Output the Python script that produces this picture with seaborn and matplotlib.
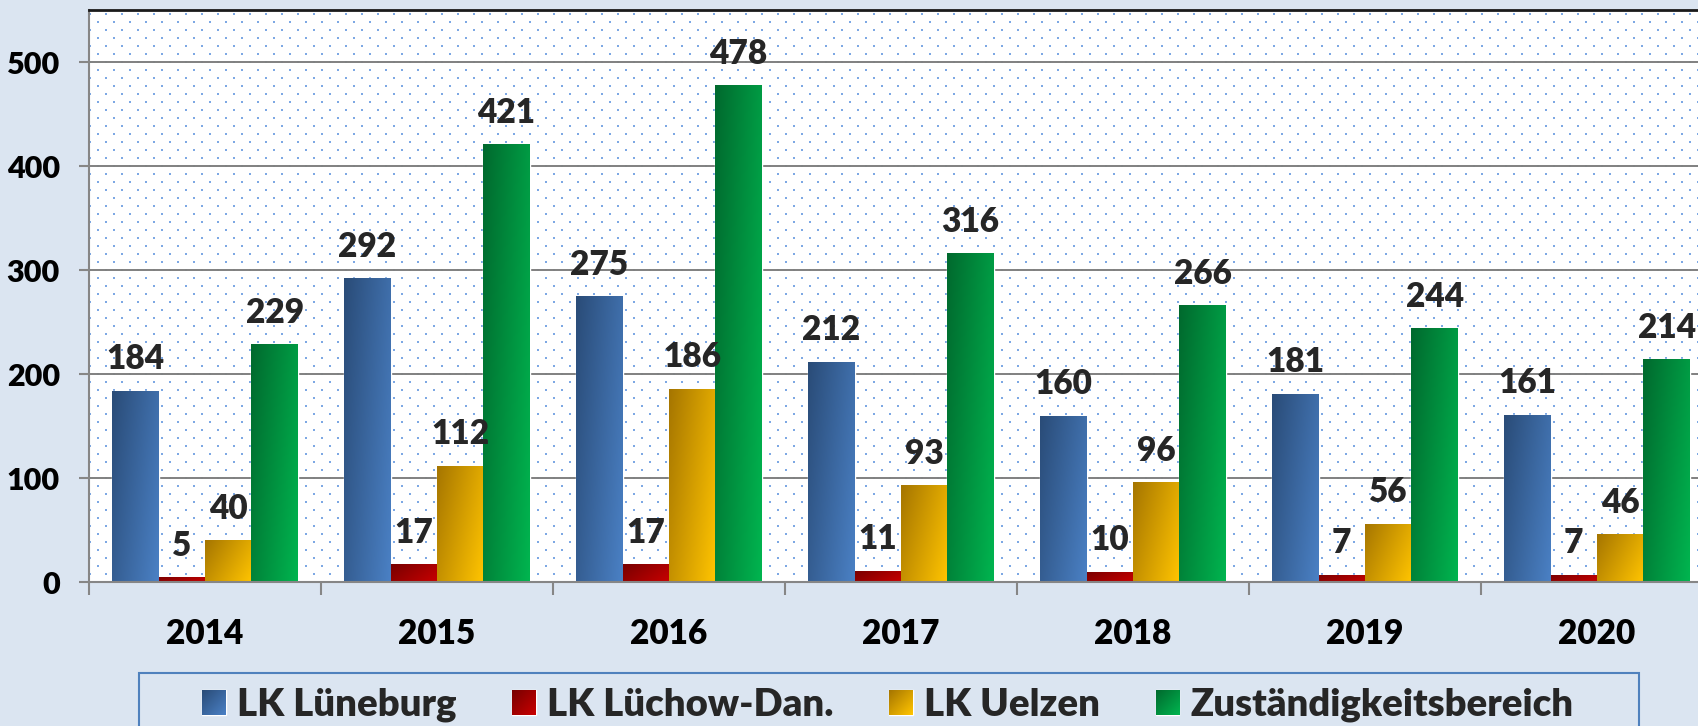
import matplotlib
matplotlib.use("Agg")
import matplotlib.pyplot as plt
from matplotlib.patches import Rectangle
import numpy as np
import pandas as pd
import seaborn as sns
from matplotlib.colors import LinearSegmentedColormap

# Data
years = ["2014", "2015", "2016", "2017", "2018", "2019", "2020"]
series = ["LK Lüneburg", "LK Lüchow-Dan.", "LK Uelzen", "Zuständigkeitsbereich"]
lk_lueneburg = [184, 292, 275, 212, 160, 181, 161]
lk_luechow = [5, 17, 17, 11, 10, 7, 7]
lk_uelzen = [40, 112, 186, 93, 96, 56, 46]
zustaendig = [229, 421, 478, 316, 266, 244, 214]

# (dark, light) gradient colours per series
grads = [("#2a4c78", "#4a80c4"), ("#780000", "#c80000"),
         ("#a67600", "#ffc400"), ("#006a2e", "#00b44f")]

df = pd.DataFrame({
    "year": years * 4,
    "value": lk_lueneburg + lk_luechow + lk_uelzen + zustaendig,
    "series": np.repeat(series, len(years)),
})

sns.set_theme(style="white")
plt.rcParams["font.family"] = ["Lato", "DejaVu Sans"]
plt.rcParams["font.weight"] = "heavy"

bg = "#dbe5f1"
W, H = 1698, 726
fig = plt.figure(figsize=(W / 100, H / 100), dpi=100, facecolor=bg)
ax = fig.add_axes([89 / W, 1 - 582 / H, 1624 / W, 572 / H])
ax.set_facecolor("white")

# dotted background pattern of the plot area
ph, pw = 572, 1624
pat = np.zeros((ph, pw, 4))
dot = (0.40, 0.60, 0.88, 0.85)
for r in range(3, ph, 8):
    off = 8 if (r // 8) % 2 else 0
    for dc in (0, 1):
        pat[r:r + 2, off + dc::16] = dot
ax.imshow(pat, extent=(0, 1, 0, 1), transform=ax.transAxes, aspect="auto",
          interpolation="nearest", zorder=0.1)

sns.barplot(data=df, x="year", y="value", hue="series",
            palette=[g[1] for g in grads], width=0.8, saturation=1,
            ax=ax, zorder=1)

# gradient fill for each bar
u = np.linspace(0, 1, 24)
v = np.linspace(0, 1, 96)
t = 0.65 * u[None, :] + 0.35 * v[:, None]
cmaps = [LinearSegmentedColormap.from_list("g", g) for g in grads]
for cont, cmap in zip(ax.containers, cmaps):
    for p in cont:
        x0, bw, bh = p.get_x(), p.get_width(), p.get_height()
        im = ax.imshow(t, cmap=cmap, vmin=0, vmax=1, aspect="auto",
                       extent=(x0, x0 + bw, 0, bh), interpolation="bilinear",
                       zorder=1.5)
        im.set_clip_path(p)
    ax.bar_label(cont, padding=11, fontsize=24, fontweight="heavy", zorder=6)

ax.set_xlim(-0.5, 6.5)
ax.set_ylim(0, 550)
ax.set_yticks(range(0, 501, 100))
ax.set_xticks(np.arange(-0.5, 7, 1), minor=True)
ax.set_xlabel("")
ax.set_ylabel("")

ax.set_axisbelow(True)
ax.yaxis.grid(True, color="#808080", lw=1.4)
ax.tick_params(axis="x", which="major", length=0, pad=26, labelsize=24)
ax.tick_params(axis="x", which="minor", bottom=True, length=9, width=1.5,
               color="#868686", direction="out")
ax.tick_params(axis="y", left=True, length=7, width=1.5, color="#868686",
               direction="out", pad=14, labelsize=22)
for lab in ax.get_xticklabels() + ax.get_yticklabels():
    lab.set_fontweight("heavy")
    lab.set_color("black")

ax.spines["top"].set_color("#1a1a1a")
ax.spines["top"].set_linewidth(2)
for s in ("left", "bottom"):
    ax.spines[s].set_color("#868686")
    ax.spines[s].set_linewidth(1.5)

handles, labels = ax.get_legend_handles_labels()
ax.get_legend().remove()
leg = fig.legend(handles, labels, loc="upper left", ncol=4,
                 bbox_to_anchor=(202 / W, 1 - 688 / H),
                 prop={"size": 27.5, "weight": "heavy"}, frameon=False,
                 handlelength=0.62, handleheight=0.62, handletextpad=0.3,
                 columnspacing=1.45, borderpad=0, borderaxespad=0)
# legend border box (runs off the bottom of the image like the original)
fig.patches.append(Rectangle((139 / W, -0.05), 1500 / W, 0.05 + (H - 673) / H,
                             transform=fig.transFigure, fill=False,
                             edgecolor="#4f81bd", lw=1.5))

# gradient on the legend markers too
fig.canvas.draw()
for h, cmap in zip(leg.legend_handles, cmaps):
    bb = h.get_window_extent()
    hw, hh = max(int(round(bb.width)), 2), max(int(round(bb.height)), 2)
    uu = np.linspace(0, 1, hw)
    vv = np.linspace(0, 1, hh)
    tt = 0.5 * uu[None, :] + 0.5 * vv[:, None]
    rgba = cmap(tt)
    fig.figimage(rgba, xo=int(round(bb.x0)), yo=int(round(bb.y0)),
                 origin="upper", zorder=10)

fig.savefig("out.png", dpi=100, facecolor=bg)
